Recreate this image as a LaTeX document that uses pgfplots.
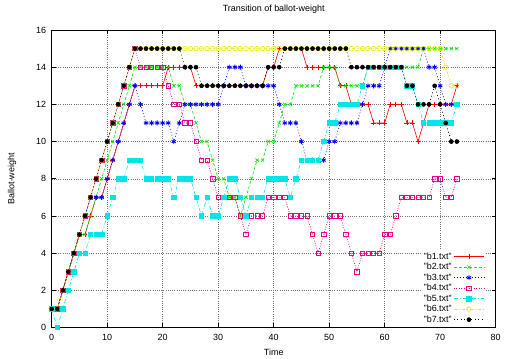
\documentclass[border=0pt]{standalone}
\usepackage{fontspec}
\setmainfont{Liberation Sans}
\usepackage{pgfplots}
\usepackage{pgfplotstable}
\pgfplotsset{compat=1.18}
\definecolor{gyellow}{RGB}{235,235,0}
\definecolor{ggreen}{RGB}{0,230,0}
\definecolor{gcyan}{RGB}{0,230,230}
\pgfplotstableread{
x b1 b2 b3 b4 b5 b6 b7
0 1 1 1 1 1 1 1
1 1 1 1 1 0 1 1
2 2 2 2 2 1 2 2
3 3 3 3 3 2 3 3
4 4 4 4 4 3 4 4
5 5 5 5 5 4 5 5
6 5 5 6 6 4 6 6
7 6 6 7 7 5 7 7
8 7 7 7 8 5 8 8
9 7 8 7 9 5 9 9
10 8 9 8 10 6 10 10
11 9 10 9 11 7 11 11
12 10 11 10 12 8 12 12
13 11 12 11 13 8 13 13
14 12 13 12 14 9 14 14
15 13 14 13 15 9 15 15
16 13 14 12 14 9 15 15
17 13 14 11 14 8 15 15
18 13 14 11 14 8 15 15
19 13 14 11 14 8 15 15
20 13 14 11 14 8 15 15
21 14 14 11 13 8 15 15
22 14 13 10 12 7 15 15
23 14 13 11 12 8 15 15
24 14 12 12 11 8 15 14
25 14 12 12 11 8 15 14
26 13 11 12 10 7 15 14
27 13 10 12 9 6 15 13
28 13 10 12 9 7 15 13
29 13 9 12 8 6 15 13
30 13 8 12 7 6 15 13
31 13 8 13 7 7 15 13
32 13 7 14 7 8 15 13
33 13 7 14 7 8 15 13
34 13 6 14 6 7 15 13
35 13 7 13 5 6 15 13
36 13 8 13 6 7 15 13
37 13 9 13 6 7 15 13
38 13 9 13 6 7 15 13
39 14 10 13 7 8 15 14
40 14 10 13 7 8 15 14
41 15 11 12 7 8 15 14
42 15 12 11 7 8 15 15
43 15 12 11 6 7 15 15
44 15 13 11 6 8 15 15
45 15 13 10 6 9 15 15
46 14 13 9 6 9 15 15
47 14 13 9 5 9 15 15
48 14 13 9 4 9 15 15
49 14 14 9 5 10 15 15
50 14 14 10 6 11 15 15
51 14 14 10 6 11 15 15
52 13 13 11 6 12 15 15
53 13 13 11 5 12 15 15
54 12 13 11 4 12 15 14
55 12 13 11 3 12 15 14
56 12 13 12 4 13 15 14
57 12 14 13 4 14 15 14
58 11 14 13 4 14 15 14
59 11 14 13 4 14 15 14
60 11 14 14 5 14 15 14
61 12 14 15 5 14 15 14
62 12 14 15 6 14 15 14
63 12 14 15 7 14 15 14
64 11 14 15 7 13 15 13
65 11 14 15 7 13 15 13
66 10 14 15 7 12 15 12
67 11 15 15 7 11 15 12
68 12 15 14 7 11 15 12
69 12 15 14 8 11 15 13
70 12 15 13 8 11 15 12
71 12 15 12 7 11 14 11
72 12 15 12 7 11 13 10
73 13 15 12 8 12 13 10
}\data
\begin{document}
\begin{tikzpicture}
\begin{axis}[
 width=444bp, height=297.5bp, scale only axis,
 xmin=0, xmax=80, ymin=0, ymax=16,
 xtick={0,10,...,80}, ytick={0,2,...,16},
 tick align=inside, major tick length=4bp,
 tick style={black, line width=0.6pt},
 grid=major,
 major grid style={black!55, line width=0.5pt, dash pattern=on 0.7pt off 1.5pt},
 axis line style={line width=0.8pt},
 clip=false,
 /pgf/number format/assume math mode=true,
 tick label style={font=\fontsize{9}{10}\selectfont},
 label style={font=\fontsize{9}{10}\selectfont},
 every axis title shift=0pt,
 title style={font=\fontsize{9}{10}\selectfont, at={(axis description cs:0.5,1.0706)}, anchor=center, yshift=0pt},
 title={Transition of ballot-weight},
 xlabel={Time}, ylabel={Ballot-weight},
 x label style={at={(axis description cs:0.5,-0.0824)}, anchor=center},
 y label style={at={(axis description cs:-0.0895,0.5)}, anchor=center},
 xticklabel style={yshift=-3bp}, yticklabel style={xshift=-2bp},
 legend plot pos=right, legend cell align=right,
 legend style={at={(0.977,0.262)}, anchor=north east, draw=none, fill=white,
   font=\fontsize{9}{10}\selectfont, inner sep=1bp, row sep=-1.5bp},
 legend image code/.code={\draw[mark repeat=2,mark phase=2,#1] plot coordinates {(0bp,0bp) (15bp,0bp) (30bp,0bp)};},
 every axis plot/.append style={line width=0.6pt},
]
\addplot[color=red, mark=+, mark size=2.5pt] table[x=x,y=b1]{\data};
\addlegendentry{"b1.txt"}
\addplot[color=ggreen, dash pattern=on 3pt off 2pt, mark=x, mark size=2.3pt, mark options={solid}] table[x=x,y=b2]{\data};
\addlegendentry{"b2.txt"}
\addplot[color=blue, dash pattern=on 1pt off 2pt, mark=asterisk, mark size=2.5pt, mark options={solid, line width=0.9pt}] table[x=x,y=b3]{\data};
\addlegendentry{"b3.txt"}
\addplot[color=magenta, dash pattern=on 1pt off 1.5pt, mark=square, mark size=2.2pt, mark options={solid}] table[x=x,y=b4]{\data};
\addlegendentry{"b4.txt"}
\addplot[color=gcyan, dash pattern=on 4pt off 2pt on 1pt off 2pt, mark=square*, mark size=2.2pt, mark options={solid}] table[x=x,y=b5]{\data};
\addlegendentry{"b5.txt"}
\addplot[color=gyellow, dash pattern=on 3pt off 2pt on 1pt off 2pt, mark=o, mark size=2.3pt, mark options={solid}] table[x=x,y=b6]{\data};
\addlegendentry{"b6.txt"}
\addplot[color=black, dash pattern=on 1pt off 2.5pt, mark=*, mark size=2pt, mark options={solid}] table[x=x,y=b7]{\data};
\addlegendentry{"b7.txt"}
\end{axis}
\pgfresetboundingbox
\useasboundingbox (-51.7bp,-31.5bp) rectangle (453.3bp,327.5bp);
\end{tikzpicture}
\end{document}
